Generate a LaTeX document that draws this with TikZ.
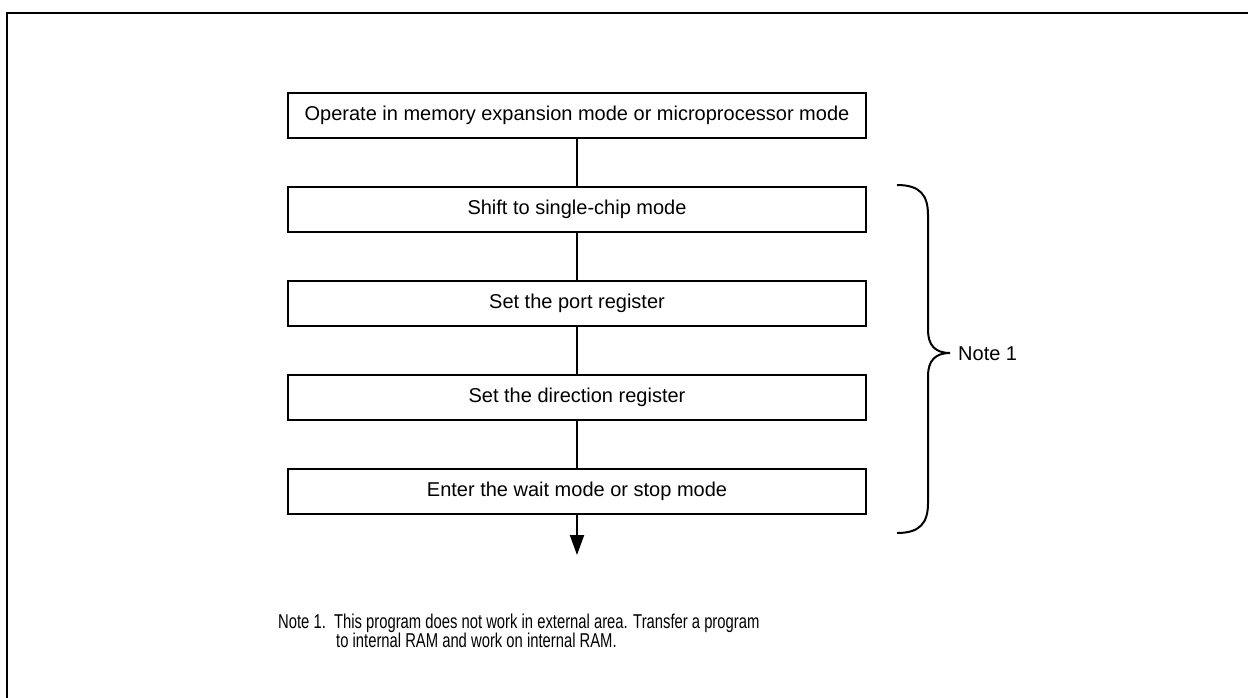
\documentclass[tikz,border=0pt]{standalone}
\usepackage{fontspec}
\setmainfont{Liberation Sans}
\newfontfamily\narrowfont[FakeStretch=0.74]{Liberation Sans}
\usetikzlibrary{arrows.meta,positioning}
\tikzset{
  proc/.style={draw, line width=2pt, fill=white, align=center, minimum width=578pt, minimum height=45pt, inner sep=0pt, font=\fontsize{20}{24}\selectfont},
  lnk/.style={line width=2pt},
  arr/.style={line width=2pt, -{Triangle[length=20pt,width=14pt]}},
  lbl/.style={inner sep=0pt, font=\fontsize{20}{24}\selectfont},
  foot/.style={inner sep=0pt, font=\narrowfont\fontsize{20}{24}\selectfont}
}
\begin{document}
\begin{tikzpicture}[x=1pt, y=-1pt, node distance=47pt]
  \useasboundingbox (0,0) rectangle (1248,698);
  \draw[line width=2.6pt] (7,698) -- (7,13) -- (1248,13);
  \node[proc] (op) at (577,115.5) {Operate in memory expansion mode or microprocessor mode};
  \node[proc, below=of op] (shift) {Shift to single-chip mode};
  \node[proc, below=of shift] (port) {Set the port register};
  \node[proc, below=of port] (dir) {Set the direction register};
  \node[proc, below=of dir] (wait) {Enter the wait mode or stop mode};
  \coordinate (end) at (577,555);
  \draw[lnk] (op) -- (shift);
  \draw[lnk] (shift) -- (port);
  \draw[lnk] (port) -- (dir);
  \draw[lnk] (dir) -- (wait);
  \draw[arr] (wait) -- (end);
  % brace
  \coordinate (tip) at (950,353);
  \draw[lnk] (897,185) .. controls (920,185) and (928,195) .. (928,215) -- (928,330)
    .. controls (928,345) and (935,353) .. (tip)
    .. controls (935,353) and (928,361) .. (928,376) -- (928,503)
    .. controls (928,523) and (920,533) .. (897,533);
  \node[lbl, anchor=base west] (note) at (958,360) {Note 1};
  \node[foot, anchor=base west] (footA) at (278,628) {Note 1.\ \ This program does not work in external area. Transfer a program};
  \node[foot, anchor=base west] (footB) at (336,647) {to internal RAM and work on internal RAM.};
\end{tikzpicture}
\end{document}
